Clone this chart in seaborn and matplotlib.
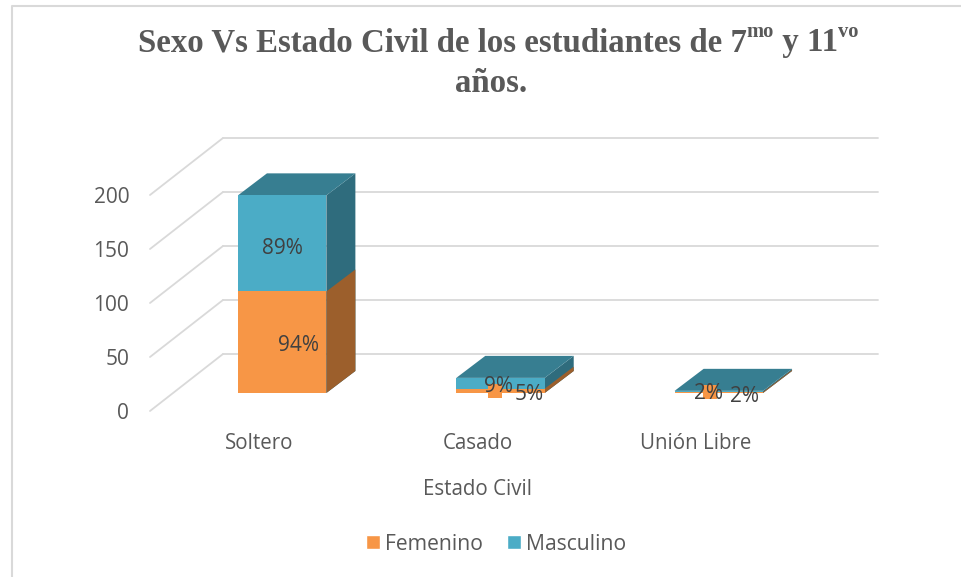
import seaborn as sns
import pandas
from matplotlib import pyplot as plt
from matplotlib.patches import Polygon, Rectangle
from matplotlib.lines import Line2D
from matplotlib.transforms import Affine2D
import matplotlib.colors as mcolors

estado = ["Soltero", "Casado", "Unión Libre"]
femenino = [94, 4, 1]
masculino = [89, 10, 1]
fem_labels = ["94%", "5%", "2%"]
masc_labels = ["89%", "9%", "2%"]
y_ticks = [0, 50, 100, 150, 200]

ORANGE = "#F79646"
BLUE = "#4BACC6"
GREY_TEXT = "#595959"
LABEL_TEXT = "#404040"
GRID = "#D9D9D9"
W, H = 961, 577

# depth of the fake 3d box, in pixels
BOX_DX, BOX_DY = 73, 57
BAR_DX, BAR_DY = 29, 22
SHIFT_X, SHIFT_Y = 23, 18


def shaded(color, f):
    r, g, b = mcolors.to_rgb(color)
    return (r * f, g * f, b * f)


def pix(dx, dy):
    return Affine2D().translate(dx, dy)


if __name__ == "__main__":
    sns.set_theme(style="white")
    plt.rcParams["font.family"] = ["Open Sans", "DejaVu Sans"]

    fig = plt.figure(figsize=(W / 100, H / 100), dpi=100)
    ax = fig.add_axes([150 / W, 1 - 411 / H, 655 / W, 216 / H])

    df = pandas.DataFrame({"estado": estado, "femenino": femenino, "masculino": masculino})
    df["total"] = df["femenino"] + df["masculino"]

    # total bar behind, femenino in front of it
    sns.barplot(data=df, x="estado", y="total", color=BLUE, saturation=1, width=0.405, linewidth=0, ax=ax, zorder=3)
    sns.barplot(data=df, x="estado", y="femenino", color=ORANGE, saturation=1, width=0.405, linewidth=0, ax=ax, zorder=3)
    ax.set_xlim(-0.5, 2.5)
    ax.set_ylim(0, 200)

    n = len(estado)
    masc_bars = ax.patches[:n]
    fem_bars = ax.patches[n:]
    shift = pix(SHIFT_X, SHIFT_Y)

    # gridlines with their slanted part on the left wall
    back = pix(BOX_DX, BOX_DY)
    for t in y_ticks:
        ax.add_line(Line2D([-0.5, 2.5], [t, t], color=GRID, lw=1.3, clip_on=False, zorder=1,
                           transform=ax.transData + back))
        x0, y0 = ax.transData.transform((-0.5, t))
        ax.add_line(Line2D([x0, x0 + BOX_DX], [y0, y0 + BOX_DY], color=GRID, lw=1.3, clip_on=False,
                           zorder=1, transform=Affine2D()))

    # side and top faces built from the bars
    for bar_list, color in ((masc_bars, BLUE), (fem_bars, ORANGE)):
        for b in bar_list:
            x0, y0 = ax.transData.transform((b.get_x(), b.get_y()))
            x1, y1 = ax.transData.transform((b.get_x() + b.get_width(), b.get_y() + b.get_height()))
            x0, x1, y0, y1 = x0 + SHIFT_X, x1 + SHIFT_X, y0 + SHIFT_Y, y1 + SHIFT_Y
            side = [(x1, y0), (x1 + BAR_DX, y0 + BAR_DY), (x1 + BAR_DX, y1 + BAR_DY), (x1, y1)]
            ax.add_patch(Polygon(side, closed=True, fc=shaded(color, 0.63), ec="none",
                                 transform=Affine2D(), clip_on=False, zorder=2.6))
            if color == BLUE:
                top = [(x0, y1), (x1, y1), (x1 + BAR_DX, y1 + BAR_DY), (x0 + BAR_DX, y1 + BAR_DY)]
                ax.add_patch(Polygon(top, closed=True, fc=shaded(color, 0.73), ec="none",
                                     transform=Affine2D(), clip_on=False, zorder=2.7))
            b.set_transform(ax.transData + shift)
            b.set_clip_on(False)

    # small legend key stuck under the labels of the two low bars
    for i in (1, 2):
        x0, y0 = ax.transData.transform((fem_bars[i].get_x(), 0))
        ax.add_patch(Rectangle((x0 + SHIFT_X + 32 - (i - 1) * 4, y0 + SHIFT_Y - 5 - (i - 1)), 14, 14, fc=ORANGE, ec="none",
                               transform=Affine2D(), clip_on=False, zorder=5))

    # data labels, placed where the original has them (offsets in pixels)
    fem_off = [(39, -36), (52, 12), (49, 13)]
    masc_off = [(23, 13), (21, 15), (13, 16)]
    for i, b in enumerate(fem_bars):
        x = b.get_x() + b.get_width() / 2
        ax.annotate(fem_labels[i], (x, femenino[i]), xytext=(fem_off[i][0] * 0.72, fem_off[i][1] * 0.72),
                    textcoords="offset points", ha="center", va="center", fontsize=15,
                    color=LABEL_TEXT, zorder=6, annotation_clip=False)
        ax.annotate(masc_labels[i], (x, femenino[i] + masculino[i] / 2), xytext=(masc_off[i][0] * 0.72, masc_off[i][1] * 0.72),
                    textcoords="offset points", ha="center", va="center", fontsize=15,
                    color=LABEL_TEXT, zorder=6, annotation_clip=False)

    sns.despine(ax=ax, left=True, bottom=True)
    ax.set_yticks(y_ticks)
    ax.tick_params(axis="y", labelsize=15, labelcolor=GREY_TEXT, length=0, pad=15)
    ax.tick_params(axis="x", labelsize=14.8, labelcolor=GREY_TEXT, length=0, pad=16)
    ax.set_ylabel("")
    ax.set_xlabel("Estado Civil", fontsize=14.8, color=GREY_TEXT)
    ax.xaxis.set_label_coords(0.5, -0.317)

    # title put together piece by piece, the superscripts are smaller and raised
    title_parts = [("Sexo Vs Estado Civil de los estudiantes de 7", False), ("mo", True), (" y 11", False), ("vo", True)]
    px = 138
    r = fig.canvas.get_renderer()
    for s, sup in title_parts:
        size = 14.8 if sup else 23.7
        py = 1 - (32 if sup else 43) / H
        t = fig.text(px / W, py, s, family="Liberation Serif", weight="bold", fontsize=size, color=GREY_TEXT,
                     ha="left", va="center")
        px += t.get_window_extent(r).width
    fig.text(491 / W, 1 - 84 / H, "años.", family="Liberation Serif", weight="bold", fontsize=23.7,
             color=GREY_TEXT, ha="center", va="center")

    handles = [Rectangle((0, 0), 1, 1, fc=ORANGE), Rectangle((0, 0), 1, 1, fc=BLUE)]
    fig.legend(handles, ["Femenino", "Masculino"], loc="center", bbox_to_anchor=(496.5 / W, 1 - 544 / H), ncol=2,
               frameon=False, fontsize=15.2, labelcolor=GREY_TEXT, handlelength=0.66, handleheight=0.66,
               handletextpad=0.24, columnspacing=1.14)

    # page frame, left and top only
    fig.add_artist(Line2D([12 / W, 12 / W, 1], [0, 1 - 6 / H, 1 - 6 / H], color=GRID, lw=1.5))

    plt.savefig("out.png", dpi=100)
    print("Done")
